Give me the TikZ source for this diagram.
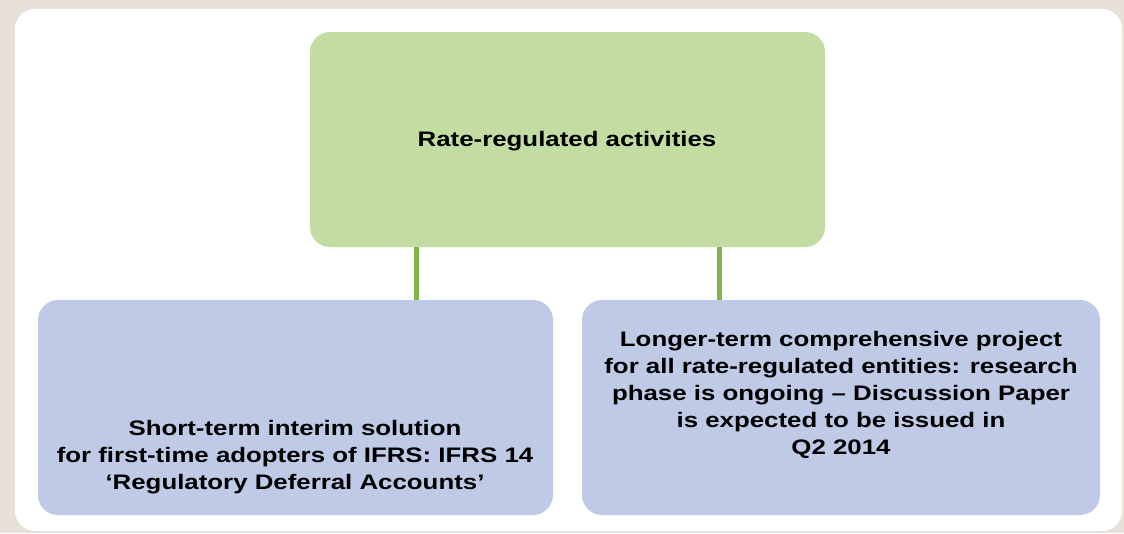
\documentclass[tikz,border=0pt]{standalone}
\usepackage{fontspec}
\setmainfont{Liberation Sans}[FakeStretch=1.23]
\definecolor{bgbeige}{HTML}{E7E1DA}
\definecolor{boxgreen}{HTML}{C3DCA2}
\definecolor{boxblue}{HTML}{BFCBE6}
\definecolor{linegreen}{HTML}{7DB843}
\begin{document}
\begin{tikzpicture}[x=1pt,y=-1pt,
  boxtext/.style={align=center,font=\fontsize{21}{27}\selectfont\bfseries,inner sep=0pt},
  conn/.style={draw=linegreen,line width=5pt}]
\useasboundingbox (0,0) rectangle (1124,533);
\fill[bgbeige] (0,0) rectangle (1124,533);
\fill[white,rounded corners=20pt] (15,9) rectangle (1122,531);
\fill[boxgreen,rounded corners=20pt] (310,32) rectangle (825,247);
\fill[boxblue,rounded corners=20pt] (38,300) rectangle (553,515);
\fill[boxblue,rounded corners=20pt] (582,300) rectangle (1100,515);
\coordinate (t1) at (416,247);
\coordinate (b1) at (416,300);
\coordinate (t2) at (719,247);
\coordinate (b2) at (719,300);
\draw[conn] (t1) -- (b1);
\draw[conn] (t2) -- (b2);
\node[boxtext] (top) at (567,141) {Rate-regulated activities};
\node[boxtext] (left) at (295,457) {Short-term interim solution\\for first-time adopters of IFRS: IFRS 14\\‘Regulatory Deferral Accounts’};
\node[boxtext] (right) at (841,395) {Longer-term comprehensive project\\for all rate-regulated entities: research\\phase is ongoing – Discussion Paper\\is expected to be issued in\\Q2 2014};
\end{tikzpicture}
\end{document}
